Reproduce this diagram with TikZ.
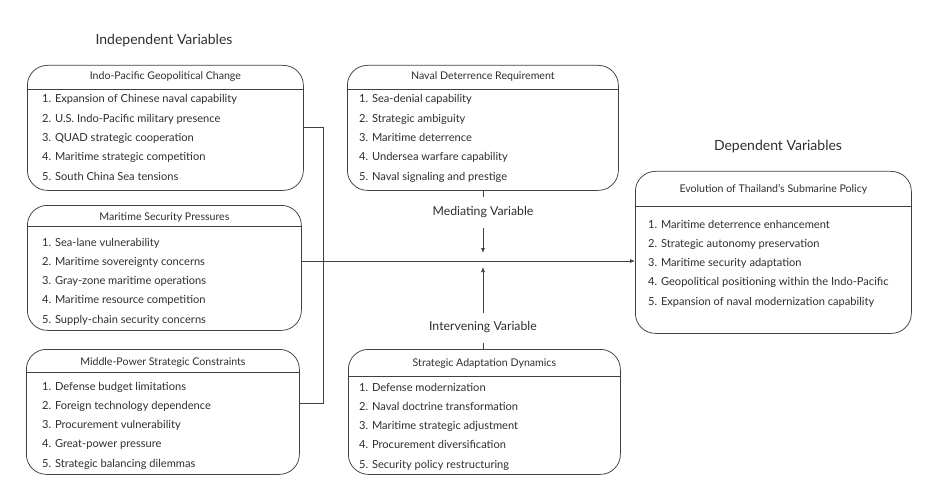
\documentclass[tikz,border=0pt]{standalone}
\usepackage{fontspec}
\setmainfont{Lato}
\usepackage{tikz}
\usetikzlibrary{positioning,arrows.meta,calc}
\definecolor{ink}{HTML}{2E2E2E}
\definecolor{rim}{HTML}{404040}

\begin{document}
\begin{tikzpicture}[x=1pt,y=-1pt,
  every node/.style={text=ink},
  varbox/.style={draw=rim,line width=0.75pt,rounded corners=20pt,inner sep=0pt,anchor=north west},
  boxtitle/.style={font=\fontsize{10.6}{12}\selectfont,inner sep=0pt,anchor=base},
  item/.style={font=\fontsize{11.1}{13}\selectfont,inner sep=0pt,anchor=base west},
  heading/.style={font=\fontsize{14}{16}\selectfont,inner sep=0pt},
  sublabel/.style={font=\fontsize{12.3}{14}\selectfont,inner sep=0pt},
  link/.style={draw=rim,line width=0.75pt},
  tip/.style={-{Latex[length=5pt,width=4pt]}}]
  \useasboundingbox (0,0) rectangle (940,500);

  % headings
  \node[heading] (indep) at (164,41) {Independent Variables};
  \node[heading] (depend) at (778,147) {Dependent Variables};

  % independent variables
  \node[varbox,minimum width=276pt,minimum height=125pt] (indo) at (27,65) {};
  \draw[link] (indo.west |- 0,89) -- (indo.east |- 0,89);
  \node[boxtitle] (indo-t) at (indo.north |- 0,80) {Indo-Pacific Geopolitical Change};
  \foreach \txt [count=\i] in {Expansion of Chinese naval capability,U.S. Indo-Pacific military presence,QUAD strategic cooperation,Maritime strategic competition,South China Sea tensions}
    \node[item] (indo-\i) at (42,83.7+19.3*\i) {\i. \txt};

  \node[varbox,minimum width=274pt,minimum height=125pt] (maritime) at (27,205) {};
  \draw[link] (maritime.west |- 0,226) -- (maritime.east |- 0,226);
  \node[boxtitle] (maritime-t) at (maritime.north |- 0,220) {Maritime Security Pressures};
  \foreach \txt [count=\i] in {Sea-lane vulnerability,Maritime sovereignty concerns,Gray-zone maritime operations,Maritime resource competition,Supply-chain security concerns}
    \node[item] (maritime-\i) at (42,226.7+19.3*\i) {\i. \txt};

  \node[varbox,minimum width=273pt,minimum height=125pt] (midpower) at (26,349) {};
  \draw[link] (midpower.west |- 0,372) -- (midpower.east |- 0,372);
  \node[boxtitle] (midpower-t) at (midpower.north |- 0,365) {Middle-Power Strategic Constraints};
  \foreach \txt [count=\i] in {Defense budget limitations,Foreign technology dependence,Procurement vulnerability,Great-power pressure,Strategic balancing dilemmas}
    \node[item] (midpower-\i) at (42,370.7+19.3*\i) {\i. \txt};

  % mediating variable
  \node[varbox,minimum width=271pt,minimum height=125pt] (naval) at (347,65) {};
  \draw[link] (naval.west |- 0,89) -- (naval.east |- 0,89);
  \node[boxtitle] (naval-t) at (naval.north |- 0,80) {Naval Deterrence Requirement};
  \foreach \txt [count=\i] in {Sea-denial capability,Strategic ambiguity,Maritime deterrence,Undersea warfare capability,Naval signaling and prestige}
    \node[item] (naval-\i) at (359,83.7+19.3*\i) {\i. \txt};

  % intervening variable
  \node[varbox,minimum width=272pt,minimum height=125pt] (adapt) at (348,349) {};
  \draw[link] (adapt.west |- 0,376) -- (adapt.east |- 0,376);
  \node[boxtitle] (adapt-t) at (adapt.north |- 0,366) {Strategic Adaptation Dynamics};
  \foreach \txt [count=\i] in {Defense modernization,Naval doctrine transformation,Maritime strategic adjustment,Procurement diversification,Security policy restructuring}
    \node[item] (adapt-\i) at (359,371.7+19.3*\i) {\i. \txt};

  % dependent variable
  \node[varbox,minimum width=276pt,minimum height=162pt] (dep) at (635,171) {};
  \draw[link] (dep.west |- 0,206) -- (dep.east |- 0,206);
  \node[boxtitle] (dep-t) at (dep.north |- 0,193) {Evolution of Thailand’s Submarine Policy};
  \foreach \txt [count=\i] in {Maritime deterrence enhancement,Strategic autonomy preservation,Maritime security adaptation,Geopolitical positioning within the Indo-Pacific,Expansion of naval modernization capability}
    \node[item] (dep-\i) at (648,208.7+19.3*\i) {\i. \txt};

  % bracket joining the independent variables
  \coordinate (brk-top) at (323,127);
  \coordinate (brk-bot) at (323,403);
  \coordinate (hub) at (323,261);
  \draw[link] (indo.east |- brk-top) -- (brk-top) -- (brk-bot) -- (midpower.east |- brk-bot);
  \draw[link] (maritime.east |- hub) -- (hub);
  \draw[link,tip] (hub) -- (hub -| dep.west);

  % mediating and intervening links
  \node[sublabel] (med-l) at (483,212) {Mediating Variable};
  \node[sublabel] (int-l) at (483,327) {Intervening Variable};
  \coordinate (med-tick) at (483,197);
  \coordinate (med-a) at (483,228);
  \coordinate (med-b) at (483,253);
  \coordinate (int-tick) at (483,343);
  \coordinate (int-a) at (483,313);
  \coordinate (int-b) at (483,267);
  \draw[link] (naval.south -| med-tick) -- (med-tick);
  \draw[link,tip] (med-a) -- (med-b);
  \draw[link] (adapt.north -| int-tick) -- (int-tick);
  \draw[link,tip] (int-a) -- (int-b);
\end{tikzpicture}
\end{document}
